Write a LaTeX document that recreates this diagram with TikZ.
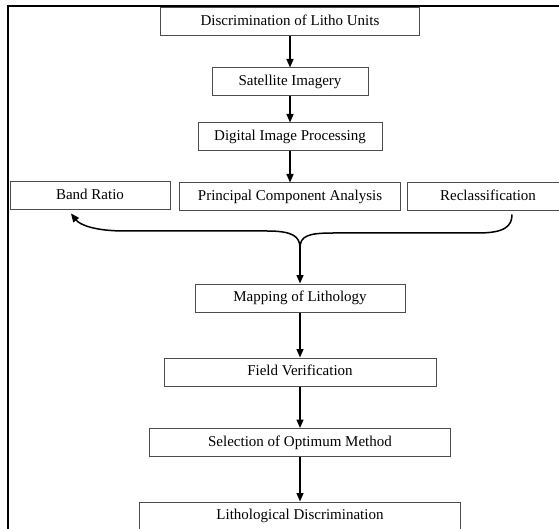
\documentclass[tikz,border=0pt]{standalone}
\usepackage{fontspec}
\setmainfont{Liberation Serif}
\usetikzlibrary{arrows.meta}

\tikzset{
  stage/.style={draw=black!70, line width=1pt, inner sep=0pt,
    minimum height=28pt, text height=10.5pt, text depth=3.5pt,
    font=\fontsize{15}{18}\selectfont},
  flow/.style={line width=1.5pt, -{Triangle[length=8.5pt,width=7pt]}}
}

\begin{document}
\begin{tikzpicture}[x=1pt,y=-1pt]
        \useasboundingbox (0,0) rectangle (559,529);
        \clip (0,0) rectangle (559,529);
        \draw[line width=2pt] (8,540) -- (8,6) -- (570,6);
        \node[stage,minimum width=259pt] (disc) at (290,22) {Discrimination of Litho Units};
        \node[stage,minimum width=156pt] (sat) at (290,82) {Satellite Imagery};
        \node[stage,minimum width=184pt] (dig) at (290,137) {Digital Image Processing};
        \node[stage,minimum width=160pt] (band) at (90,196) {Band Ratio};
        \node[stage,minimum width=221pt] (pca) at (290,197) {Principal Component Analysis};
        \node[stage,minimum width=162pt] (recl) at (488,197) {Reclassification};
        \node[stage,minimum width=210pt] (map) at (300,298) {Mapping of Lithology};
        \node[stage,minimum width=272pt] (field) at (300,372) {Field Verification};
        \node[stage,minimum width=301pt] (sel) at (300,442.5) {Selection of Optimum Method};
        \node[stage,minimum width=321pt] (lith) at (300,516) {Lithological Discrimination};
        \coordinate (fork) at (300,248);
        \coordinate (bandtip) at ([xshift=-19pt,yshift=-3pt]band.south);
        \coordinate (reclend) at ([xshift=24pt,yshift=-3pt]recl.south);
        \path[flow]
          (disc) edge (sat)
          (sat) edge (dig)
          (dig) edge (pca)
          (map) edge (field)
          (field) edge (sel)
          (sel) edge (lith)
          ;
        % brace joining the three methods
        \draw[flow] (fork) .. controls (300,236) and (292,231) .. (267,231)
          -- (125,231) .. controls (95,231) and (80,225) .. (bandtip);
        \draw[line width=1.5pt] (fork) .. controls (300,236) and (308,233) .. (333,233)
          -- (478,233) .. controls (505,233) and (512,226) .. (reclend);
        \draw[flow] (fork) -- (map);
      \end{tikzpicture}
\end{document}
